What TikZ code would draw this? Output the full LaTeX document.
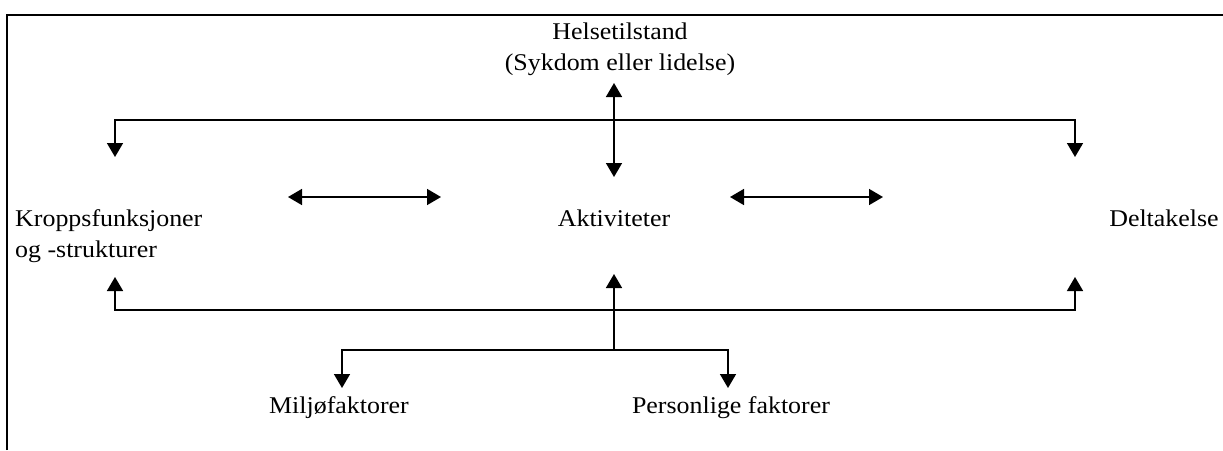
\documentclass[tikz,border=0pt]{standalone}
\usepackage{fontspec}
\setmainfont[FakeStretch=1.08]{Liberation Serif}
\usetikzlibrary{arrows.meta}
\tikzset{
  lbl/.style={inner sep=0pt, font=\fontsize{24}{31}\selectfont},
  conn/.style={line width=1.6pt, draw=black},
  tip/.style={-{Triangle[width=16pt,length=14pt]}},
  tips/.style={{Triangle[width=16pt,length=14pt]}-{Triangle[width=16pt,length=14pt]}},
}
\begin{document}
\begin{tikzpicture}[x=1pt,y=-1pt]
\useasboundingbox (0,0) rectangle (1223,450);
% frame
\coordinate (fbl) at (7,450);
\coordinate (ftl) at (7,15);
\coordinate (ftr) at (1223,15);
\draw[line width=2pt] (fbl) -- (ftl) -- (ftr);

% labels (multi-line nodes: base = last line)
\node[lbl, anchor=base, align=center] (helse) at (620,70) {Helsetilstand\\(Sykdom eller lidelse)};
\node[lbl, anchor=base west, align=left] (kropp) at (15,257) {Kroppsfunksjoner\\og -strukturer};
\node[lbl, anchor=base] (akt) at (614,226) {Aktiviteter};
\node[lbl, anchor=base] (delt) at (1164,226) {Deltakelse};
\node[lbl, anchor=base] (milj) at (339,413) {Miljøfaktorer};
\node[lbl, anchor=base] (pers) at (731,413) {Personlige faktorer};

% coordinates
\coordinate (hTop) at (614,83);
\coordinate (hBot) at (614,177);
\coordinate (kTop) at (115,157);
\coordinate (dTop) at (1075,157);
\coordinate (upL) at (115,120);
\coordinate (upR) at (1075,120);
\coordinate (kBot) at (115,277);
\coordinate (dBot) at (1075,277);
\coordinate (loL) at (115,310);
\coordinate (loR) at (1075,310);
\coordinate (aBot) at (614,274);
\coordinate (split) at (614,350);
\coordinate (mL) at (342,350);
\coordinate (mR) at (728,350);
\coordinate (mTip) at (342,388);
\coordinate (pTip) at (728,388);
\coordinate (ka1) at (288,197);
\coordinate (ka2) at (441,197);
\coordinate (ad1) at (730,197);
\coordinate (ad2) at (883,197);

% connectors
\draw[conn, tips] (kTop) -- (upL) -- (upR) -- (dTop);
\draw[conn, tips] (hTop) -- (hBot);
\draw[conn, tips] (ka1) -- (ka2);
\draw[conn, tips] (ad1) -- (ad2);
\draw[conn, tips] (kBot) -- (loL) -- (loR) -- (dBot);
\draw[conn, tip] (split) -- (aBot);
\draw[conn, tips] (mTip) -- (mL) -- (mR) -- (pTip);
\end{tikzpicture}
\end{document}
